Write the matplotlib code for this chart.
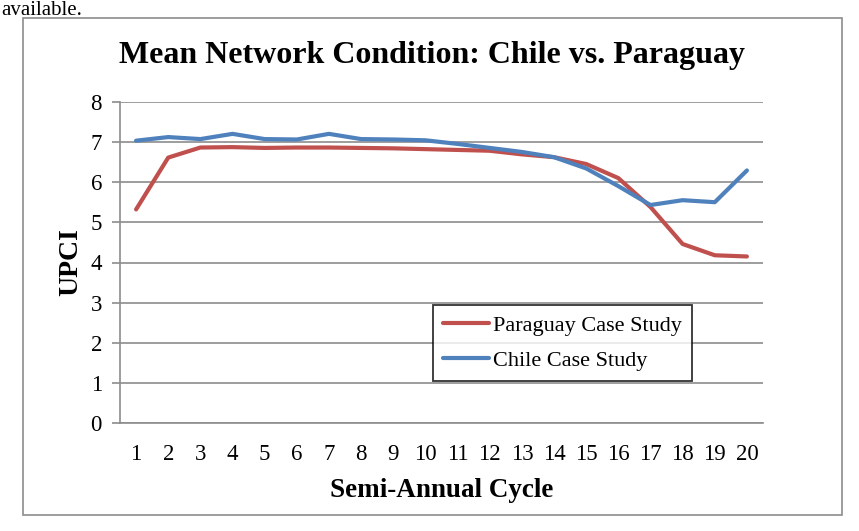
import matplotlib
matplotlib.use("Agg")
import matplotlib.pyplot as plt
from matplotlib.patches import Rectangle

cycles = [str(i) for i in range(1, 21)]
paraguay = [5.32, 6.61, 6.86, 6.87, 6.85, 6.86, 6.86, 6.85, 6.84, 6.82,
            6.80, 6.78, 6.69, 6.62, 6.45, 6.10, 5.38, 4.46, 4.18, 4.15]
chile = [7.03, 7.12, 7.07, 7.20, 7.07, 7.06, 7.20, 7.07, 7.06, 7.04,
         6.95, 6.85, 6.75, 6.62, 6.34, 5.90, 5.43, 5.55, 5.50, 6.29]
yticks = [0, 1, 2, 3, 4, 5, 6, 7, 8]

plt.rcParams['font.family'] = ['Liberation Serif', 'DejaVu Serif']

W, H = 859, 531
fig = plt.figure(figsize=(W / 100, H / 100), dpi=100)

# outer chart frame
fig.patches.append(Rectangle((23 / W, 1 - 515 / H), (842 - 23) / W, (515 - 18) / H,
                             transform=fig.transFigure, fill=False,
                             edgecolor='#8c8c8c', linewidth=1.2))

fig.text(0.001, 0.999, "available.", fontsize=15, va='top', ha='left')

ax = fig.add_axes([120 / W, 1 - 423.3 / H, (763 - 120) / W, (423.3 - 101.7) / H])
x = list(range(len(cycles)))
ax.plot(x, paraguay, color='#C0504D', linewidth=3.0, solid_capstyle='round',
        solid_joinstyle='round', label='Paraguay Case Study')
ax.plot(x, chile, color='#4F81BD', linewidth=3.0, solid_capstyle='round',
        solid_joinstyle='round', label='Chile Case Study')

ax.set_xlim(-0.5, len(cycles) - 0.5)
ax.set_ylim(0, 8)
ax.set_yticks(yticks)
ax.set_xticks(x)
ax.set_xticklabels(cycles)
ax.grid(axis='y', color='#8c8c8c', linewidth=1.2)
ax.set_axisbelow(True)
for s in ['top', 'right']:
    ax.spines[s].set_visible(False)
ax.spines['left'].set_color('#8c8c8c')
ax.spines['left'].set_linewidth(1.2)
ax.spines['bottom'].set_color('#8c8c8c')
ax.spines['bottom'].set_linewidth(1.2)
ax.tick_params(axis='y', length=6, width=1.2, color='#8c8c8c', labelsize=16.5, pad=7)
ax.tick_params(axis='x', length=0, labelsize=16.5, pad=15)

ax.set_xlabel("Semi-Annual Cycle", fontsize=19.5, fontweight='bold', labelpad=9)
ax.set_ylabel("UPCI", fontsize=20, fontweight='bold', labelpad=5)
fig.text(432 / W, 1 - 56 / H, "Mean Network Condition: Chile vs. Paraguay",
         fontsize=23, fontweight='bold', ha='center', va='center')

leg = ax.legend(loc='upper left', bbox_to_anchor=((433 - 120) / (763 - 120),
                                                 (423.3 - 305) / (423.3 - 101.7)),
                fontsize=16, frameon=True, fancybox=False, handlelength=2.07,
                handletextpad=0.18, borderpad=0.45, labelspacing=0.65, borderaxespad=0)
leg.get_frame().set_edgecolor('black')
leg.get_frame().set_linewidth(1.3)

fig.savefig("out.png", dpi=100)
